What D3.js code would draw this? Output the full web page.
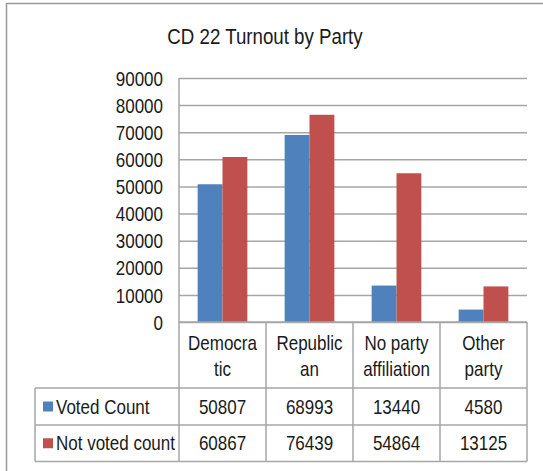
<!doctype html>
<html lang='en'>
<head>
    <meta charset='UTF-8'>
    <title>CD 22 Turnout by Party</title>
    <script src='https://cdn.jsdelivr.net/npm/d3@7/dist/d3.min.js'></script>
    <style>
        body { margin: 0; background: #fff; }
        text { font-family: 'Liberation Sans', Arial, sans-serif; fill: #1a1a1a; }
    </style>
</head>
<body>
<div id='chart'></div>
<script>
    // data
    const categories = ['Democratic', 'Republican', 'No party affiliation', 'Other party'];
    const categoryLines = [['Democra', 'tic'], ['Republic', 'an'], ['No party', 'affiliation'], ['Other', 'party']];
    const seriesNames = ['Voted Count', 'Not voted count'];
    const votedCount = [50807, 68993, 13440, 4580];
    const notVotedCount = [60867, 76439, 54864, 13125];
    const yTicks = [0, 10000, 20000, 30000, 40000, 50000, 60000, 70000, 80000, 90000];

    const W = 543, H = 471;
    const plot = { left: 179, right: 527, top: 78, bottom: 322 };
    const colors = ['#4F81BD', '#C0504D'];
    const grid = '#a6a6a6';
    const SX = 0.85; // squeeze text sideways, the original font is a narrow one

    const svg = d3.select('#chart').append('svg').attr('width', W).attr('height', H);

    // narrow text helper
    function label(g, tx, ty, str, size, anchor) {
        return g.append('text')
            .attr('transform', 'translate(' + tx + ',' + ty + ') scale(' + SX + ',1)')
            .attr('text-anchor', anchor || 'middle')
            .style('font-size', size + 'px')
            .text(str);
    }

    // outer chart frame (runs off the right/bottom edges)
    svg.append('rect').attr('x', 6.5).attr('y', 3.5).attr('width', W + 10).attr('height', H + 10)
        .attr('fill', 'none').attr('stroke', '#9a9a9a').attr('stroke-width', 1.5);

    label(svg, 265, 44, 'CD 22 Turnout by Party', 22);

    const x = d3.scaleBand().domain(categories).range([plot.left, plot.right]);
    const x1 = d3.scaleBand().domain(seriesNames).range([0, x.bandwidth()]).paddingOuter(0.75).paddingInner(0);
    const y = d3.scaleLinear().domain([0, 90000]).range([plot.bottom, plot.top]);

    // gridlines + value axis
    const yAxis = d3.axisLeft(y).tickValues(yTicks).tickSize(plot.left - plot.right).tickPadding(0).tickFormat(d3.format('d'));
    const gy = svg.append('g').attr('transform', 'translate(' + plot.left + ',0)').call(yAxis);
    gy.select('.domain').remove();
    gy.selectAll('.tick line').attr('stroke', grid).attr('stroke-width', 1.5);
    gy.selectAll('.tick text').style('font-size', '20px').attr('fill', '#1a1a1a')
        .attr('x', -16 / SX).attr('dy', '0.36em').attr('transform', 'scale(' + SX + ',1)');
    svg.append('line').attr('x1', plot.left).attr('x2', plot.left).attr('y1', plot.top).attr('y2', plot.bottom)
        .attr('stroke', grid).attr('stroke-width', 1.5);

    // bars
    const series = [votedCount, notVotedCount];
    series.forEach(function (vals, s) {
        svg.append('g').selectAll('rect').data(vals).join('rect')
            .attr('x', function (d, i) { return x(categories[i]) + x1(seriesNames[s]); })
            .attr('y', function (d) { return y(d); })
            .attr('width', x1.bandwidth())
            .attr('height', function (d) { return y(0) - y(d); })
            .attr('fill', colors[s]);
    });

    // data table
    const tableLeft = 35, rowTops = [plot.bottom, 388, 425, 461.5];
    const tg = svg.append('g').attr('stroke', grid).attr('stroke-width', 1.5);
    rowTops.forEach(function (ry, i) {
        tg.append('line').attr('x1', i == 0 ? plot.left : tableLeft).attr('x2', plot.right).attr('y1', ry).attr('y2', ry);
    });
    categories.concat(['end']).forEach(function (c, i) {
        const cx = i < categories.length ? x(c) : plot.right;
        tg.append('line').attr('x1', cx).attr('x2', cx).attr('y1', plot.bottom).attr('y2', rowTops[3]);
    });
    tg.append('line').attr('x1', tableLeft).attr('x2', tableLeft).attr('y1', rowTops[1]).attr('y2', rowTops[3]);

    // category header
    categories.forEach(function (c, i) {
        categoryLines[i].forEach(function (ln, k) {
            label(svg, x(c) + x.bandwidth() / 2, 350 + k * 26, ln, 20);
        });
    });

    // value rows + legend keys
    series.forEach(function (vals, s) {
        const cy = (rowTops[s + 1] + rowTops[s + 2]) / 2 + 7;
        svg.append('rect').attr('x', 43).attr('y', cy - 12).attr('width', 10).attr('height', 10).attr('fill', colors[s]);
        label(svg, 56, cy, seriesNames[s], 20, 'start');
        vals.forEach(function (v, i) {
            label(svg, x(categories[i]) + x.bandwidth() / 2, cy, v, 20);
        });
    });
</script>
</body>
</html>
